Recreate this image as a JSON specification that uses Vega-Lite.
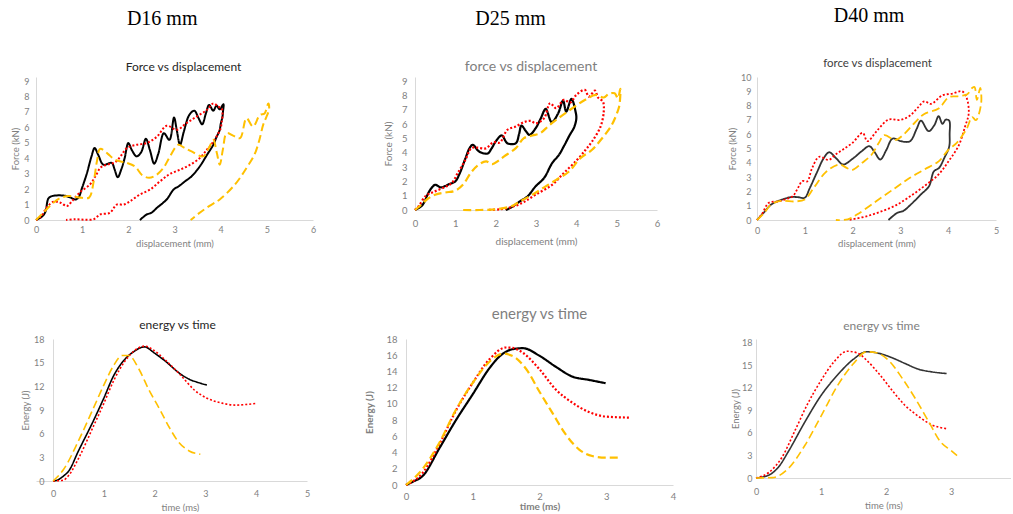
{
"$schema": "https://vega.github.io/schema/vega-lite/v6.json",
"padding": {"left": 10, "top": 5, "right": 0, "bottom": 0},
"autosize": {"type": "pad"},
"config": {
  "view": {"stroke": null},
  "axis": {"grid": false, "ticks": false, "domainColor": "#d9d9d9", "domainWidth": 1, "labelColor": "#7f7f7f", "titleColor": "#7f7f7f", "labelFont": "Lato", "titleFont": "Lato", "labelFontSize": 9, "titleFontSize": 9.5, "titleFontWeight": "normal", "labelFlush": false, "labelOverlap": false},
  "title": {"font": "Lato", "fontWeight": "normal", "anchor": "middle"},
  "line": {"interpolate": "catmull-rom"}
},
"datasets": {
"f16": [
{"s":"black","x":0,"y":0},{"s":"black","x":0.12,"y":0.2},{"s":"black","x":0.2,"y":0.5},{"s":"black","x":0.27,"y":1.4},{"s":"black","x":0.35,"y":1.55},{"s":"black","x":0.6,"y":1.58},{"s":"black","x":0.75,"y":1.45},{"s":"black","x":0.85,"y":1.33},{"s":"black","x":0.92,"y":1.45},{"s":"black","x":1.0,"y":2.1},{"s":"black","x":1.1,"y":3.0},{"s":"black","x":1.2,"y":4.1},{"s":"black","x":1.27,"y":4.66},{"s":"black","x":1.35,"y":4.2},{"s":"black","x":1.46,"y":3.58},{"s":"black","x":1.64,"y":3.7},{"s":"black","x":1.7,"y":3.3},{"s":"black","x":1.77,"y":2.77},{"s":"black","x":1.85,"y":3.3},{"s":"black","x":1.92,"y":4.0},{"s":"black","x":2.0,"y":4.98},{"s":"black","x":2.08,"y":4.5},{"s":"black","x":2.18,"y":4.12},{"s":"black","x":2.28,"y":4.4},{"s":"black","x":2.38,"y":5.26},{"s":"black","x":2.47,"y":4.5},{"s":"black","x":2.56,"y":3.65},{"s":"black","x":2.65,"y":4.3},{"s":"black","x":2.77,"y":5.62},{"s":"black","x":2.89,"y":5.19},{"s":"black","x":2.99,"y":6.63},{"s":"black","x":3.05,"y":5.8},{"s":"black","x":3.12,"y":4.87},{"s":"black","x":3.2,"y":5.7},{"s":"black","x":3.32,"y":6.8},{"s":"black","x":3.43,"y":7.08},{"s":"black","x":3.52,"y":6.6},{"s":"black","x":3.6,"y":6.2},{"s":"black","x":3.68,"y":6.9},{"s":"black","x":3.75,"y":7.45},{"s":"black","x":3.84,"y":7.08},{"s":"black","x":3.91,"y":7.4},{"s":"black","x":3.98,"y":7.17},{"s":"black","x":4.06,"y":7.5},{"s":"black","x":4.05,"y":7.0},{"s":"black","x":4.04,"y":6.7},{"s":"black","x":4.0,"y":6.2},{"s":"black","x":3.98,"y":5.84},{"s":"black","x":3.9,"y":5.3},{"s":"black","x":3.84,"y":4.87},{"s":"black","x":3.7,"y":4.2},{"s":"black","x":3.55,"y":3.48},{"s":"black","x":3.37,"y":2.83},{"s":"black","x":3.23,"y":2.51},{"s":"black","x":3.1,"y":2.2},{"s":"black","x":2.98,"y":1.97},{"s":"black","x":2.83,"y":1.33},{"s":"black","x":2.62,"y":0.79},{"s":"black","x":2.5,"y":0.47},{"s":"black","x":2.4,"y":0.36},{"s":"black","x":2.25,"y":0},
{"s":"red","x":0,"y":0},{"s":"red","x":0.1,"y":0.2},{"s":"red","x":0.24,"y":0.84},{"s":"red","x":0.38,"y":1.18},{"s":"red","x":0.53,"y":1.12},{"s":"red","x":0.67,"y":0.9},{"s":"red","x":0.78,"y":1.22},{"s":"red","x":0.96,"y":1.82},{"s":"red","x":1.17,"y":2.3},{"s":"red","x":1.3,"y":2.9},{"s":"red","x":1.4,"y":3.4},{"s":"red","x":1.53,"y":3.58},{"s":"red","x":1.71,"y":3.73},{"s":"red","x":1.85,"y":4.2},{"s":"red","x":1.97,"y":4.66},{"s":"red","x":2.18,"y":4.87},{"s":"red","x":2.4,"y":4.98},{"s":"red","x":2.62,"y":5.4},{"s":"red","x":2.83,"y":6.1},{"s":"red","x":3.05,"y":5.84},{"s":"red","x":3.26,"y":6.27},{"s":"red","x":3.48,"y":6.7},{"s":"red","x":3.7,"y":7.12},{"s":"red","x":3.84,"y":7.55},{"s":"red","x":3.95,"y":7.34},{"s":"red","x":4.02,"y":7.23},{"s":"red","x":4.04,"y":6.8},{"s":"red","x":4.02,"y":6.3},{"s":"red","x":4.0,"y":5.94},{"s":"red","x":3.91,"y":5.4},{"s":"red","x":3.8,"y":4.9},{"s":"red","x":3.7,"y":4.55},{"s":"red","x":3.55,"y":4.01},{"s":"red","x":3.34,"y":3.58},{"s":"red","x":3.12,"y":3.26},{"s":"red","x":2.9,"y":2.98},{"s":"red","x":2.69,"y":2.51},{"s":"red","x":2.47,"y":1.97},{"s":"red","x":2.25,"y":1.65},{"s":"red","x":2.04,"y":1.22},{"s":"red","x":1.9,"y":1.0},{"s":"red","x":1.75,"y":1.0},{"s":"red","x":1.6,"y":0.47},{"s":"red","x":1.39,"y":0.36},{"s":"red","x":1.25,"y":0.05},{"s":"red","x":1.05,"y":0.02},{"s":"red","x":0.85,"y":0.05},{"s":"red","x":0.65,"y":0},
{"s":"yellow","x":0,"y":0},{"s":"yellow","x":0.15,"y":0.45},{"s":"yellow","x":0.3,"y":0.9},{"s":"yellow","x":0.5,"y":1.39},{"s":"yellow","x":0.71,"y":1.55},{"s":"yellow","x":0.85,"y":1.5},{"s":"yellow","x":0.99,"y":1.44},{"s":"yellow","x":1.15,"y":1.45},{"s":"yellow","x":1.25,"y":2.5},{"s":"yellow","x":1.32,"y":3.8},{"s":"yellow","x":1.39,"y":4.61},{"s":"yellow","x":1.55,"y":4.3},{"s":"yellow","x":1.71,"y":3.9},{"s":"yellow","x":1.97,"y":3.7},{"s":"yellow","x":2.15,"y":3.45},{"s":"yellow","x":2.3,"y":2.9},{"s":"yellow","x":2.45,"y":2.73},{"s":"yellow","x":2.6,"y":2.9},{"s":"yellow","x":2.76,"y":3.37},{"s":"yellow","x":2.9,"y":4.1},{"s":"yellow","x":3.08,"y":4.87},{"s":"yellow","x":3.2,"y":4.7},{"s":"yellow","x":3.37,"y":4.44},{"s":"yellow","x":3.62,"y":4.12},{"s":"yellow","x":3.75,"y":4.7},{"s":"yellow","x":3.84,"y":5.19},{"s":"yellow","x":3.92,"y":4.3},{"s":"yellow","x":3.98,"y":3.58},{"s":"yellow","x":4.05,"y":4.6},{"s":"yellow","x":4.13,"y":5.62},{"s":"yellow","x":4.28,"y":5.45},{"s":"yellow","x":4.42,"y":5.3},{"s":"yellow","x":4.56,"y":6.59},{"s":"yellow","x":4.7,"y":6.05},{"s":"yellow","x":4.85,"y":6.8},{"s":"yellow","x":4.95,"y":6.9},{"s":"yellow","x":5.03,"y":7.55},{"s":"yellow","x":5.05,"y":7.2},{"s":"yellow","x":4.98,"y":6.6},{"s":"yellow","x":4.92,"y":6.16},{"s":"yellow","x":4.84,"y":5.2},{"s":"yellow","x":4.74,"y":4.29},{"s":"yellow","x":4.56,"y":3.37},{"s":"yellow","x":4.31,"y":2.3},{"s":"yellow","x":3.98,"y":1.33},{"s":"yellow","x":3.75,"y":0.9},{"s":"yellow","x":3.52,"y":0.41},{"s":"yellow","x":3.35,"y":0}
],
"f25": [
{"s":"black","x":0,"y":0},{"s":"black","x":0.15,"y":0.25},{"s":"black","x":0.22,"y":0.5},{"s":"black","x":0.31,"y":1.07},{"s":"black","x":0.4,"y":1.5},{"s":"black","x":0.5,"y":1.76},{"s":"black","x":0.64,"y":1.58},{"s":"black","x":0.85,"y":1.81},{"s":"black","x":1.0,"y":2.0},{"s":"black","x":1.1,"y":2.5},{"s":"black","x":1.25,"y":3.6},{"s":"black","x":1.35,"y":4.3},{"s":"black","x":1.43,"y":4.55},{"s":"black","x":1.59,"y":4.08},{"s":"black","x":1.8,"y":3.94},{"s":"black","x":1.9,"y":4.3},{"s":"black","x":2.0,"y":4.78},{"s":"black","x":2.15,"y":5.2},{"s":"black","x":2.29,"y":4.66},{"s":"black","x":2.5,"y":4.66},{"s":"black","x":2.58,"y":5.3},{"s":"black","x":2.64,"y":5.89},{"s":"black","x":2.75,"y":5.5},{"s":"black","x":2.84,"y":5.24},{"s":"black","x":2.99,"y":5.7},{"s":"black","x":3.12,"y":6.4},{"s":"black","x":3.24,"y":7.05},{"s":"black","x":3.39,"y":6.13},{"s":"black","x":3.55,"y":6.75},{"s":"black","x":3.67,"y":7.63},{"s":"black","x":3.75,"y":6.87},{"s":"black","x":3.88,"y":7.75},{"s":"black","x":3.98,"y":6.87},{"s":"black","x":4.0,"y":6.4},{"s":"black","x":3.95,"y":5.8},{"s":"black","x":3.83,"y":5.2},{"s":"black","x":3.7,"y":4.5},{"s":"black","x":3.57,"y":3.85},{"s":"black","x":3.4,"y":3.27},{"s":"black","x":3.2,"y":2.23},{"s":"black","x":2.99,"y":1.65},{"s":"black","x":2.79,"y":0.95},{"s":"black","x":2.6,"y":0.6},{"s":"black","x":2.39,"y":0.19},{"s":"black","x":2.25,"y":0},
{"s":"red","x":0,"y":0},{"s":"red","x":0.1,"y":0.3},{"s":"red","x":0.27,"y":1.0},{"s":"red","x":0.45,"y":1.25},{"s":"red","x":0.7,"y":1.55},{"s":"red","x":0.91,"y":1.88},{"s":"red","x":1.06,"y":2.58},{"s":"red","x":1.25,"y":3.5},{"s":"red","x":1.4,"y":4.32},{"s":"red","x":1.55,"y":4.35},{"s":"red","x":1.75,"y":4.3},{"s":"red","x":1.95,"y":4.73},{"s":"red","x":2.1,"y":4.7},{"s":"red","x":2.29,"y":5.59},{"s":"red","x":2.5,"y":5.82},{"s":"red","x":2.7,"y":6.13},{"s":"red","x":2.87,"y":6.22},{"s":"red","x":3.0,"y":6.05},{"s":"red","x":3.2,"y":6.4},{"s":"red","x":3.35,"y":7.45},{"s":"red","x":3.5,"y":7.1},{"s":"red","x":3.69,"y":7.68},{"s":"red","x":3.85,"y":7.5},{"s":"red","x":4.0,"y":8.03},{"s":"red","x":4.21,"y":8.38},{"s":"red","x":4.31,"y":7.91},{"s":"red","x":4.46,"y":8.33},{"s":"red","x":4.54,"y":7.84},{"s":"red","x":4.66,"y":7.56},{"s":"red","x":4.68,"y":6.87},{"s":"red","x":4.6,"y":5.82},{"s":"red","x":4.39,"y":4.78},{"s":"red","x":4.23,"y":4.2},{"s":"red","x":4.02,"y":3.5},{"s":"red","x":3.69,"y":2.58},{"s":"red","x":3.4,"y":1.76},{"s":"red","x":2.99,"y":1.07},{"s":"red","x":2.7,"y":0.56},{"s":"red","x":2.42,"y":0.23},{"s":"red","x":2.1,"y":0.05},{"s":"red","x":1.8,"y":0},
{"s":"yellow","x":0,"y":0},{"s":"yellow","x":0.15,"y":0.35},{"s":"yellow","x":0.3,"y":0.75},{"s":"yellow","x":0.5,"y":1.07},{"s":"yellow","x":0.75,"y":1.22},{"s":"yellow","x":1.0,"y":1.35},{"s":"yellow","x":1.2,"y":1.8},{"s":"yellow","x":1.38,"y":2.58},{"s":"yellow","x":1.55,"y":3.1},{"s":"yellow","x":1.76,"y":3.39},{"s":"yellow","x":1.92,"y":3.2},{"s":"yellow","x":2.05,"y":3.4},{"s":"yellow","x":2.21,"y":3.74},{"s":"yellow","x":2.5,"y":4.32},{"s":"yellow","x":2.7,"y":5.01},{"s":"yellow","x":2.91,"y":5.2},{"s":"yellow","x":3.1,"y":5.35},{"s":"yellow","x":3.32,"y":5.89},{"s":"yellow","x":3.61,"y":6.52},{"s":"yellow","x":3.9,"y":7.1},{"s":"yellow","x":4.21,"y":7.68},{"s":"yellow","x":4.48,"y":8.03},{"s":"yellow","x":4.68,"y":7.85},{"s":"yellow","x":4.8,"y":8.1},{"s":"yellow","x":4.95,"y":8.14},{"s":"yellow","x":5.03,"y":7.8},{"s":"yellow","x":5.09,"y":8.45},{"s":"yellow","x":5.08,"y":7.6},{"s":"yellow","x":5.05,"y":7.1},{"s":"yellow","x":4.87,"y":5.89},{"s":"yellow","x":4.64,"y":5.01},{"s":"yellow","x":4.39,"y":4.2},{"s":"yellow","x":4.1,"y":3.62},{"s":"yellow","x":3.82,"y":2.69},{"s":"yellow","x":3.5,"y":2.1},{"s":"yellow","x":3.2,"y":1.58},{"s":"yellow","x":2.9,"y":1.05},{"s":"yellow","x":2.6,"y":0.6},{"s":"yellow","x":2.4,"y":0.28},{"s":"yellow","x":2.0,"y":0.05},{"s":"yellow","x":1.6,"y":0},{"s":"yellow","x":1.16,"y":0}
],
"f40": [
{"s":"black","x":0,"y":0},{"s":"black","x":0.15,"y":0.55},{"s":"black","x":0.3,"y":1.09},{"s":"black","x":0.5,"y":1.4},{"s":"black","x":0.71,"y":1.6},{"s":"black","x":0.85,"y":1.6},{"s":"black","x":1.0,"y":1.56},{"s":"black","x":1.1,"y":2.2},{"s":"black","x":1.25,"y":3.3},{"s":"black","x":1.4,"y":4.35},{"s":"black","x":1.51,"y":4.74},{"s":"black","x":1.66,"y":4.3},{"s":"black","x":1.8,"y":3.88},{"s":"black","x":2.0,"y":4.28},{"s":"black","x":2.19,"y":4.81},{"s":"black","x":2.35,"y":5.16},{"s":"black","x":2.45,"y":4.8},{"s":"black","x":2.58,"y":4.23},{"s":"black","x":2.7,"y":4.86},{"s":"black","x":2.84,"y":5.7},{"s":"black","x":3.01,"y":5.51},{"s":"black","x":3.2,"y":5.51},{"s":"black","x":3.34,"y":6.37},{"s":"black","x":3.43,"y":6.95},{"s":"black","x":3.59,"y":6.21},{"s":"black","x":3.71,"y":6.63},{"s":"black","x":3.8,"y":7.26},{"s":"black","x":3.88,"y":6.72},{"s":"black","x":3.95,"y":7.02},{"s":"black","x":4.02,"y":6.95},{"s":"black","x":4.03,"y":6.0},{"s":"black","x":4.02,"y":5.12},{"s":"black","x":3.92,"y":4.35},{"s":"black","x":3.81,"y":3.65},{"s":"black","x":3.7,"y":3.4},{"s":"black","x":3.6,"y":2.37},{"s":"black","x":3.43,"y":1.79},{"s":"black","x":3.22,"y":1.09},{"s":"black","x":3.06,"y":0.63},{"s":"black","x":2.94,"y":0.51},{"s":"black","x":2.75,"y":0},
{"s":"red","x":0,"y":0},{"s":"red","x":0.1,"y":0.4},{"s":"red","x":0.25,"y":1.21},{"s":"red","x":0.45,"y":1.3},{"s":"red","x":0.6,"y":1.45},{"s":"red","x":0.75,"y":1.67},{"s":"red","x":0.85,"y":2.2},{"s":"red","x":0.95,"y":2.72},{"s":"red","x":1.05,"y":2.7},{"s":"red","x":1.15,"y":3.6},{"s":"red","x":1.3,"y":4.42},{"s":"red","x":1.5,"y":4.2},{"s":"red","x":1.65,"y":4.6},{"s":"red","x":1.8,"y":4.93},{"s":"red","x":2.0,"y":5.4},{"s":"red","x":2.21,"y":6.09},{"s":"red","x":2.31,"y":5.51},{"s":"red","x":2.5,"y":6.2},{"s":"red","x":2.75,"y":7.02},{"s":"red","x":3.0,"y":7.0},{"s":"red","x":3.2,"y":7.3},{"s":"red","x":3.35,"y":7.8},{"s":"red","x":3.5,"y":8.3},{"s":"red","x":3.64,"y":8.12},{"s":"red","x":3.88,"y":8.72},{"s":"red","x":4.09,"y":8.84},{"s":"red","x":4.29,"y":9.0},{"s":"red","x":4.38,"y":8.6},{"s":"red","x":4.43,"y":7.49},{"s":"red","x":4.35,"y":6.51},{"s":"red","x":4.22,"y":5.21},{"s":"red","x":4.01,"y":4.12},{"s":"red","x":3.8,"y":3.19},{"s":"red","x":3.5,"y":2.37},{"s":"red","x":3.18,"y":1.6},{"s":"red","x":2.9,"y":1.02},{"s":"red","x":2.6,"y":0.6},{"s":"red","x":2.31,"y":0.28},{"s":"red","x":2.0,"y":0.05},{"s":"red","x":1.9,"y":0},
{"s":"yellow","x":0,"y":0},{"s":"yellow","x":0.15,"y":0.5},{"s":"yellow","x":0.3,"y":1.1},{"s":"yellow","x":0.5,"y":1.33},{"s":"yellow","x":0.81,"y":1.3},{"s":"yellow","x":1.0,"y":1.44},{"s":"yellow","x":1.19,"y":2.26},{"s":"yellow","x":1.44,"y":3.35},{"s":"yellow","x":1.72,"y":3.88},{"s":"yellow","x":1.9,"y":3.6},{"s":"yellow","x":2.0,"y":3.51},{"s":"yellow","x":2.2,"y":4.0},{"s":"yellow","x":2.4,"y":4.58},{"s":"yellow","x":2.55,"y":5.4},{"s":"yellow","x":2.66,"y":5.93},{"s":"yellow","x":2.9,"y":5.6},{"s":"yellow","x":3.08,"y":6.02},{"s":"yellow","x":3.3,"y":6.8},{"s":"yellow","x":3.5,"y":7.42},{"s":"yellow","x":3.8,"y":7.79},{"s":"yellow","x":4.01,"y":8.58},{"s":"yellow","x":4.2,"y":8.65},{"s":"yellow","x":4.4,"y":8.8},{"s":"yellow","x":4.5,"y":9.23},{"s":"yellow","x":4.55,"y":9.3},{"s":"yellow","x":4.6,"y":8.4},{"s":"yellow","x":4.67,"y":9.23},{"s":"yellow","x":4.69,"y":8.19},{"s":"yellow","x":4.58,"y":6.98},{"s":"yellow","x":4.5,"y":7.2},{"s":"yellow","x":4.39,"y":6.4},{"s":"yellow","x":4.18,"y":5.4},{"s":"yellow","x":4.01,"y":4.93},{"s":"yellow","x":3.8,"y":4.1},{"s":"yellow","x":3.5,"y":3.53},{"s":"yellow","x":3.2,"y":2.95},{"s":"yellow","x":2.9,"y":2.26},{"s":"yellow","x":2.5,"y":1.33},{"s":"yellow","x":2.1,"y":0.4},{"s":"yellow","x":1.9,"y":0.05},{"s":"yellow","x":1.65,"y":0}
],
"e16": [
{"s":"black","x":0,"y":0},{"s":"black","x":0.1,"y":0.15},{"s":"black","x":0.2,"y":0.6},{"s":"black","x":0.31,"y":1.27},{"s":"black","x":0.5,"y":3.8},{"s":"black","x":0.8,"y":7.7},{"s":"black","x":1.0,"y":10.5},{"s":"black","x":1.19,"y":13.3},{"s":"black","x":1.39,"y":15.25},{"s":"black","x":1.59,"y":16.4},{"s":"black","x":1.8,"y":17.0},{"s":"black","x":2.0,"y":16.2},{"s":"black","x":2.2,"y":15.25},{"s":"black","x":2.51,"y":13.56},{"s":"black","x":2.7,"y":12.84},{"s":"black","x":2.85,"y":12.5},{"s":"black","x":3.03,"y":12.16},
{"s":"red","x":0,"y":0},{"s":"red","x":0.2,"y":0.1},{"s":"red","x":0.31,"y":0.72},{"s":"red","x":0.5,"y":2.84},{"s":"red","x":0.8,"y":7.0},{"s":"red","x":1.0,"y":9.83},{"s":"red","x":1.2,"y":12.8},{"s":"red","x":1.4,"y":15.04},{"s":"red","x":1.6,"y":16.5},{"s":"red","x":1.8,"y":17.1},{"s":"red","x":2.0,"y":16.5},{"s":"red","x":2.2,"y":15.4},{"s":"red","x":2.5,"y":13.5},{"s":"red","x":2.8,"y":11.44},{"s":"red","x":3.03,"y":10.5},{"s":"red","x":3.33,"y":9.87},{"s":"red","x":3.59,"y":9.62},{"s":"red","x":3.8,"y":9.7},{"s":"red","x":4.0,"y":9.83},
{"s":"yellow","x":0,"y":0},{"s":"yellow","x":0.21,"y":1.48},{"s":"yellow","x":0.5,"y":5.08},{"s":"yellow","x":0.8,"y":9.3},{"s":"yellow","x":1.0,"y":12.16},{"s":"yellow","x":1.19,"y":14.6},{"s":"yellow","x":1.36,"y":15.9},{"s":"yellow","x":1.49,"y":15.9},{"s":"yellow","x":1.69,"y":14.2},{"s":"yellow","x":1.88,"y":11.65},{"s":"yellow","x":2.1,"y":9.1},{"s":"yellow","x":2.29,"y":6.78},{"s":"yellow","x":2.47,"y":4.96},{"s":"yellow","x":2.68,"y":3.81},{"s":"yellow","x":2.9,"y":3.39}
],
"e25": [
{"s":"black","x":0,"y":0},{"s":"black","x":0.1,"y":0.4},{"s":"black","x":0.25,"y":1.11},{"s":"black","x":0.5,"y":4.53},{"s":"black","x":0.75,"y":8.02},{"s":"black","x":1.0,"y":11.19},{"s":"black","x":1.25,"y":14.4},{"s":"black","x":1.4,"y":15.84},{"s":"black","x":1.6,"y":16.75},{"s":"black","x":1.75,"y":16.87},{"s":"black","x":2.0,"y":15.93},{"s":"black","x":2.24,"y":14.6},{"s":"black","x":2.49,"y":13.37},{"s":"black","x":2.74,"y":12.96},{"s":"black","x":2.99,"y":12.55},
{"s":"red","x":0,"y":0},{"s":"red","x":0.25,"y":1.5},{"s":"red","x":0.5,"y":5.02},{"s":"red","x":0.75,"y":9.2},{"s":"red","x":1.0,"y":12.6},{"s":"red","x":1.25,"y":15.5},{"s":"red","x":1.5,"y":16.95},{"s":"red","x":1.6,"y":16.9},{"s":"red","x":1.75,"y":16.3},{"s":"red","x":2.0,"y":14.27},{"s":"red","x":2.24,"y":11.8},{"s":"red","x":2.49,"y":10.16},{"s":"red","x":2.74,"y":9.0},{"s":"red","x":2.99,"y":8.44},{"s":"red","x":3.35,"y":8.31},
{"s":"yellow","x":0,"y":0},{"s":"yellow","x":0.2,"y":1.5},{"s":"yellow","x":0.5,"y":5.2},{"s":"yellow","x":0.75,"y":9.3},{"s":"yellow","x":1.0,"y":12.6},{"s":"yellow","x":1.25,"y":15.2},{"s":"yellow","x":1.45,"y":16.2},{"s":"yellow","x":1.6,"y":15.9},{"s":"yellow","x":1.8,"y":14.3},{"s":"yellow","x":2.0,"y":11.5},{"s":"yellow","x":2.2,"y":8.8},{"s":"yellow","x":2.39,"y":6.26},{"s":"yellow","x":2.59,"y":4.4},{"s":"yellow","x":2.79,"y":3.58},{"s":"yellow","x":2.99,"y":3.37},{"s":"yellow","x":3.2,"y":3.37}
],
"e40": [
{"s":"black","x":0,"y":0},{"s":"black","x":0.2,"y":0.4},{"s":"black","x":0.35,"y":1.5},{"s":"black","x":0.5,"y":3.57},{"s":"black","x":0.75,"y":7.45},{"s":"black","x":1.0,"y":11.0},{"s":"black","x":1.25,"y":13.7},{"s":"black","x":1.5,"y":15.85},{"s":"black","x":1.7,"y":16.83},{"s":"black","x":1.9,"y":16.6},{"s":"black","x":2.1,"y":16.0},{"s":"black","x":2.29,"y":15.27},{"s":"black","x":2.5,"y":14.5},{"s":"black","x":2.7,"y":14.15},{"s":"black","x":2.93,"y":13.93},
{"s":"red","x":0,"y":0},{"s":"red","x":0.2,"y":0.76},{"s":"red","x":0.4,"y":2.77},{"s":"red","x":0.6,"y":6.34},{"s":"red","x":0.79,"y":9.82},{"s":"red","x":1.0,"y":13.0},{"s":"red","x":1.2,"y":15.5},{"s":"red","x":1.4,"y":16.9},{"s":"red","x":1.55,"y":16.7},{"s":"red","x":1.7,"y":15.7},{"s":"red","x":1.9,"y":13.8},{"s":"red","x":2.1,"y":11.6},{"s":"red","x":2.29,"y":9.69},{"s":"red","x":2.5,"y":8.2},{"s":"red","x":2.7,"y":7.1},{"s":"red","x":2.94,"y":6.56},
{"s":"yellow","x":0,"y":0},{"s":"yellow","x":0.25,"y":0.05},{"s":"yellow","x":0.5,"y":1.29},{"s":"yellow","x":0.75,"y":4.33},{"s":"yellow","x":1.0,"y":8.26},{"s":"yellow","x":1.25,"y":12.27},{"s":"yellow","x":1.5,"y":15.27},{"s":"yellow","x":1.7,"y":16.83},{"s":"yellow","x":1.85,"y":16.7},{"s":"yellow","x":2.05,"y":15.58},{"s":"yellow","x":2.25,"y":13.26},{"s":"yellow","x":2.45,"y":10.58},{"s":"yellow","x":2.65,"y":7.59},{"s":"yellow","x":2.84,"y":4.78},{"s":"yellow","x":3.0,"y":3.66},{"s":"yellow","x":3.09,"y":2.99}
]
},
"resolve": {"scale": {"color": "independent", "strokeDash": "independent"}},
"columns": 1,
"align": "none",
"spacing": 59,
"concat": [
{
 "hconcat": [
  {"title": {"text": "D16 mm", "font": "Liberation Serif", "fontSize": 20, "color": "#000000", "offset": 32, "dx": -1, "frame": "bounds"},
   "vconcat": [
   {"width": 277, "height": 143, "data": {"name": "f16"},
    "title": {"text": "Force vs displacement", "fontSize": 12, "color": "#262626", "offset": 3, "dx": 9},
    "mark": {"type": "line", "strokeWidth": 2},
    "encoding": {
     "x": {"field": "x", "type": "quantitative", "scale": {"domain": [0, 6], "nice": false}, "axis": {"title": "displacement (mm)", "values": [0,1,2,3,4,5,6], "labelPadding": 5, "titlePadding": 4}},
     "y": {"field": "y", "type": "quantitative", "scale": {"domain": [0, 9.26], "nice": false}, "axis": {"title": "Force (kN)", "values": [0,1,2,3,4,5,6,7,8,9], "labelPadding": 7, "titlePadding": 3}},
     "color": {"field": "s", "type": "nominal", "scale": {"domain": ["black","red","yellow"], "range": ["#000000","#ff0000","#ffc000"]}, "legend": null},
     "strokeDash": {"field": "s", "type": "nominal", "scale": {"domain": ["black","red","yellow"], "range": [[1,0],[2,2],[8,4]]}, "legend": null},
     "order": {"value": null}
    }}
   ]},
  {"title": {"text": "D25 mm", "font": "Liberation Serif", "fontSize": 20, "color": "#000000", "offset": 31.5, "dx": -11, "frame": "bounds"},
   "vconcat": [
   {"width": 242, "height": 133, "data": {"name": "f25"},
    "title": {"text": "force vs displacement", "fontSize": 14, "color": "#7f7f7f", "offset": 2, "dx": -5},
    "mark": {"type": "line", "strokeWidth": 2.2},
    "encoding": {
     "x": {"field": "x", "type": "quantitative", "scale": {"domain": [0, 6], "nice": false}, "axis": {"title": "displacement (mm)", "values": [0,1,2,3,4,5,6], "labelPadding": 8, "titlePadding": 9, "labelFontSize": 9.5, "titleFontSize": 10}},
     "y": {"field": "y", "type": "quantitative", "scale": {"domain": [0, 9.28], "nice": false}, "axis": {"title": "Force (kN)", "values": [0,1,2,3,4,5,6,7,8,9], "labelPadding": 8, "titlePadding": 8, "labelFontSize": 9.5, "titleFontSize": 10}},
     "color": {"field": "s", "type": "nominal", "scale": {"domain": ["black","red","yellow"], "range": ["#000000","#ff0000","#ffc000"]}, "legend": null},
     "strokeDash": {"field": "s", "type": "nominal", "scale": {"domain": ["black","red","yellow"], "range": [[1,0],[2,2],[8,4]]}, "legend": null},
     "order": {"value": null}
    }}
   ]},
  {"title": {"text": "D40 mm", "font": "Liberation Serif", "fontSize": 20, "color": "#000000", "offset": 32.5, "dx": 6, "frame": "bounds"},
   "vconcat": [
   {"width": 239, "height": 143, "data": {"name": "f40"},
    "title": {"text": "force vs displacement", "fontSize": 11.5, "color": "#404040", "offset": 3.5, "dx": 1},
    "mark": {"type": "line", "strokeWidth": 1.8},
    "encoding": {
     "x": {"field": "x", "type": "quantitative", "scale": {"domain": [0, 5], "nice": false}, "axis": {"title": "displacement (mm)", "values": [0,1,2,3,4,5], "labelPadding": 6, "titlePadding": 3}},
     "y": {"field": "y", "type": "quantitative", "scale": {"domain": [0, 10], "nice": false}, "axis": {"title": "Force (kN)", "values": [0,1,2,3,4,5,6,7,8,9,10], "labelPadding": 6, "titlePadding": 3}},
     "color": {"field": "s", "type": "nominal", "scale": {"domain": ["black","red","yellow"], "range": ["#333333","#ff0000","#ffc000"]}, "legend": null},
     "strokeDash": {"field": "s", "type": "nominal", "scale": {"domain": ["black","red","yellow"], "range": [[1,0],[2,2],[8,4]]}, "legend": null},
     "order": {"value": null}
    }}
   ]}
 ],
 "spacing": 67,
 "resolve": {"scale": {"color": "independent", "strokeDash": "independent"}}
},
{
 "hconcat": [
   {"width": 271, "height": 142, "data": {"name": "e16"},
    "title": {"text": "energy vs time", "fontSize": 12, "color": "#262626", "offset": 3, "dx": 6},
    "mark": {"type": "line", "strokeWidth": 1.6, "interpolate": "monotone"},
    "encoding": {
     "x": {"field": "x", "type": "quantitative", "scale": {"domain": [-0.335, 5], "nice": false}, "axis": {"title": "time (ms)", "values": [0,1,2,3,4,5], "labelPadding": 8, "titlePadding": 4, "titleX": 144}},
     "y": {"field": "y", "type": "quantitative", "scale": {"domain": [0, 18], "nice": false}, "axis": {"title": "Energy (J)", "values": [0,3,6,9,12,15,18], "labelPadding": 9, "titlePadding": 3, "offset": -17}},
     "color": {"field": "s", "type": "nominal", "scale": {"domain": ["black","red","yellow"], "range": ["#000000","#ff0000","#ffc000"]}, "legend": null},
     "strokeDash": {"field": "s", "type": "nominal", "scale": {"domain": ["black","red","yellow"], "range": [[1,0],[2,2],[8,4]]}, "legend": null},
     "order": {"value": null}
    }},
   {"width": 267, "height": 146, "data": {"name": "e25"},
    "title": {"text": "energy vs time", "fontSize": 15, "color": "#7f7f7f", "offset": 12, "dx": 0},
    "mark": {"type": "line", "strokeWidth": 2.2, "interpolate": "monotone"},
    "encoding": {
     "x": {"field": "x", "type": "quantitative", "scale": {"domain": [0, 4], "nice": false}, "axis": {"title": "time (ms)", "values": [0,1,2,3,4], "labelPadding": 6, "titlePadding": 1, "labelFontSize": 9.5, "titleFontSize": 10, "titleFontWeight": "bold"}},
     "y": {"field": "y", "type": "quantitative", "scale": {"domain": [0, 18], "nice": false}, "axis": {"title": "Energy (J)", "values": [0,2,4,6,8,10,12,14,16,18], "labelPadding": 9, "titlePadding": 11, "labelFontSize": 9.5, "titleFontSize": 10, "titleFontWeight": "bold"}},
     "color": {"field": "s", "type": "nominal", "scale": {"domain": ["black","red","yellow"], "range": ["#000000","#ff0000","#ffc000"]}, "legend": null},
     "strokeDash": {"field": "s", "type": "nominal", "scale": {"domain": ["black","red","yellow"], "range": [[1,0],[2,2],[8,4]]}, "legend": null},
     "order": {"value": null}
    }},
   {"width": 255, "height": 139, "data": {"name": "e40"},
    "title": {"text": "energy vs time", "fontSize": 12, "color": "#7f7f7f", "offset": 6, "dx": -2},
    "mark": {"type": "line", "strokeWidth": 1.6, "interpolate": "monotone"},
    "encoding": {
     "x": {"field": "x", "type": "quantitative", "scale": {"domain": [0, 3.92], "nice": false}, "axis": {"title": "time (ms)", "values": [0,1,2,3], "labelPadding": 9, "titlePadding": 4}},
     "y": {"field": "y", "type": "quantitative", "scale": {"domain": [0, 18.53], "nice": false}, "axis": {"title": "Energy (J)", "values": [0,3,6,9,12,15,18], "labelPadding": 4, "titlePadding": 1}},
     "color": {"field": "s", "type": "nominal", "scale": {"domain": ["black","red","yellow"], "range": ["#333333","#ff0000","#ffc000"]}, "legend": null},
     "strokeDash": {"field": "s", "type": "nominal", "scale": {"domain": ["black","red","yellow"], "range": [[1,0],[2,2],[8,4]]}, "legend": null},
     "order": {"value": null}
    }}
 ],
 "spacing": 54,
 "resolve": {"scale": {"color": "independent", "strokeDash": "independent"}}
}
]
}
